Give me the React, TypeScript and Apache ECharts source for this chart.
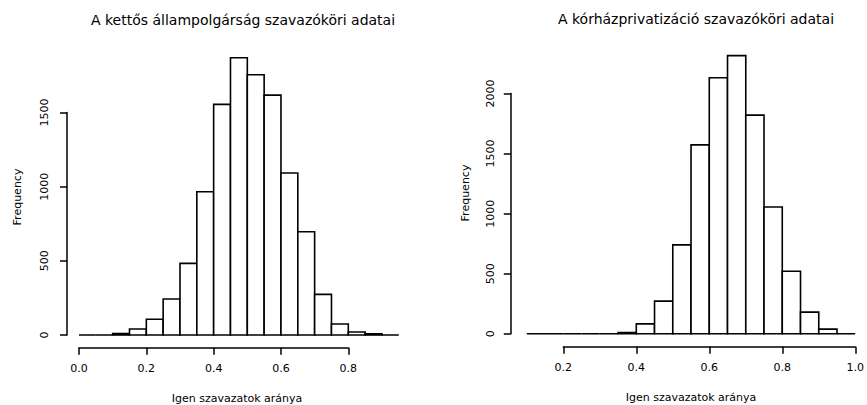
import React, { useEffect, useRef } from "react";
import * as echarts from "echarts";

// Left histogram: "A kettős állampolgárság szavazóköri adatai"
const leftTitle = "A kettős állampolgárság szavazóköri adatai";
const leftBinStart = 0.0;
const leftBinWidth = 0.05;
const leftCounts = [0, 0, 10, 40, 106, 243, 483, 966, 1555, 1869, 1754, 1617, 1092, 696, 274, 74, 20, 8, 0];
const leftXTicks = [0, 0.8, 0.2]; // min, max, interval
const leftYTicks = [0, 1500, 500];

// Right histogram: "A kórházprivatizáció szavazóköri adatai"
const rightTitle = "A kórházprivatizáció szavazóköri adatai";
const rightBinStart = 0.1;
const rightBinWidth = 0.05;
const rightCounts = [0, 0, 0, 0, 0, 10, 83, 272, 740, 1572, 2131, 2315, 1820, 1055, 520, 180, 39, 0];
const rightXTicks = [0.2, 1.0, 0.2];
const rightYTicks = [0, 2000, 500];

const xLabel = "Igen szavazatok aránya";
const yLabel = "Frequency";

const FONT = "'DejaVu Sans', 'Liberation Sans', Arial, sans-serif";

function bins(start: number, width: number, counts: number[]) {
  return counts.map((c, i) => {
    const a = +(start + i * width).toFixed(4);
    const b = +(start + (i + 1) * width).toFixed(4);
    return [a, b, c];
  });
}

export default function App() {
  const ref = useRef<HTMLDivElement>(null);
  useEffect(() => {
    document.body.style.margin = "0";
    if (!ref.current) return;
    const chart = echarts.init(ref.current, null, { renderer: "svg" });

    const renderItem = (params: any, api: any) => {
      const p0 = api.coord([api.value(0), 0]);
      const p1 = api.coord([api.value(1), api.value(2)]);
      return {
        type: "rect",
        shape: { x: p0[0], y: p1[1], width: p1[0] - p0[0], height: p0[1] - p1[1] },
        style: { fill: "#ffffff", stroke: "#000000", lineWidth: 1.6 },
      };
    };

    const axisCommonX = (t: number[], offset: number) => ({
      type: "value",
      min: t[0],
      max: t[1],
      interval: t[2],
      offset,
      axisLine: { show: true, onZero: false, lineStyle: { color: "#000", width: 1.5 } },
      axisTick: { show: true, inside: false, length: 7, lineStyle: { color: "#000", width: 1.5 } },
      axisLabel: {
        color: "#000",
        fontSize: 11,
        fontFamily: FONT,
        margin: 15,
        formatter: (v: number) => v.toFixed(1),
      },
      splitLine: { show: false },
    });
    const axisCommonY = (t: number[], offset: number, margin: number) => ({
      type: "value",
      min: t[0],
      max: t[1],
      interval: t[2],
      offset,
      axisLine: { show: true, onZero: false, lineStyle: { color: "#000", width: 1.5 } },
      axisTick: { show: true, inside: false, length: 7, lineStyle: { color: "#000", width: 1.5 } },
      axisLabel: {
        color: "#000",
        fontSize: 11,
        fontFamily: FONT,
        rotate: 90,
        margin,
        formatter: (v: number) => String(v),
      },
      splitLine: { show: false },
    });

    const titleStyle = { color: "#000", fontSize: 14, fontWeight: "normal", fontFamily: FONT };
    const labelStyle = { fill: "#000", fontSize: 11, fontFamily: FONT };

    chart.setOption({
      animation: false,
      backgroundColor: "#ffffff",
      title: [
        { text: leftTitle, left: 238, top: 8, textAlign: "center", textStyle: titleStyle },
        { text: rightTitle, left: 691, top: 7, textAlign: "center", textStyle: titleStyle },
      ],
      grid: [
        { left: 79, right: 867 - 348.3, top: 112.5, bottom: 405 - 335 },
        { left: 563.3, right: 867 - 859, top: 93.5, bottom: 405 - 333.8 },
      ],
      xAxis: [
        { ...axisCommonX(leftXTicks, 12.7), gridIndex: 0 },
        { ...axisCommonX(rightXTicks, 13), gridIndex: 1 },
      ],
      yAxis: [
        { ...axisCommonY(leftYTicks, 12, 17), gridIndex: 0 },
        { ...axisCommonY(rightYTicks, 52.5, 15), gridIndex: 1 },
      ],
      series: [
        {
          type: "custom",
          xAxisIndex: 0,
          yAxisIndex: 0,
          clip: false,
          renderItem,
          encode: { x: [0, 1], y: 2 },
          data: bins(leftBinStart, leftBinWidth, leftCounts),
        },
        {
          type: "custom",
          xAxisIndex: 1,
          yAxisIndex: 1,
          clip: false,
          renderItem,
          encode: { x: [0, 1], y: 2 },
          data: bins(rightBinStart, rightBinWidth, rightCounts),
        },
      ],
      graphic: [
        { type: "text", x: 237, y: 398, style: { ...labelStyle, text: xLabel, align: "center", verticalAlign: "middle" } },
        { type: "text", x: 691, y: 397, style: { ...labelStyle, text: xLabel, align: "center", verticalAlign: "middle" } },
        { type: "text", x: 17, y: 197, rotation: Math.PI / 2, style: { ...labelStyle, text: yLabel, align: "center", verticalAlign: "middle" } },
        { type: "text", x: 465, y: 193, rotation: Math.PI / 2, style: { ...labelStyle, text: yLabel, align: "center", verticalAlign: "middle" } },
      ],
    });
    return () => chart.dispose();
  }, []);
  return <div ref={ref} style={{ width: 867, height: 405 }} />;
}
